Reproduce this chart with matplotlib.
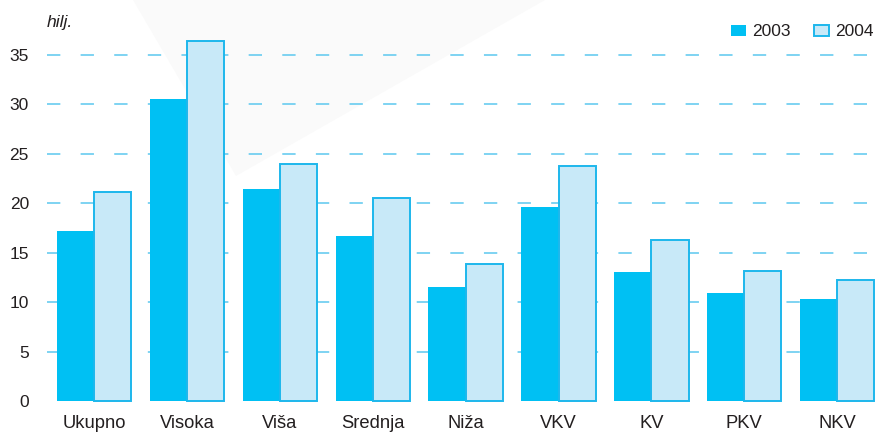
import matplotlib
matplotlib.use('Agg')
import matplotlib.pyplot as plt
from matplotlib.patches import Polygon
import numpy as np

# data (thousands)
categories = ['Ukupno', 'Visoka', 'Viša', 'Srednja', 'Niža', 'VKV', 'KV', 'PKV', 'NKV']
y2003 = [17.2, 30.5, 21.4, 16.7, 11.5, 19.6, 13.0, 10.9, 10.3]
y2004 = [21.1, 36.4, 24.0, 20.5, 13.9, 23.8, 16.3, 13.2, 12.2]
yticks = [0, 5, 10, 15, 20, 25, 30, 35]
series_labels = ['2003', '2004']
unit_label = 'hilj.'

plt.rcParams['font.family'] = ['Liberation Sans', 'DejaVu Sans']
plt.rcParams['lines.scale_dashes'] = False
txt = '#231f20'
c03 = '#00c0f3'
c04 = '#c8e9f8'
c04_edge = '#1db7ec'
grid_c = '#5bc8ef'

W, H = 876, 437
fig = plt.figure(figsize=(W / 100, H / 100), dpi=100)

# faint background triangle, behind everything
tri = Polygon([(133 / W, 1.0), (236 / W, 1 - 176 / H), (545 / W, 1.0)],
              closed=True, transform=fig.transFigure, facecolor='#fafafa',
              edgecolor='none', zorder=-5)
fig.patches.append(tri)

# axes: x=0 at px 94, 92.9 px per group; y=0 at px 401, 9.886 px per unit
px_grp = 92.9
px_unit = 9.886
x_left, x_right = 47, 876
ax = fig.add_axes([x_left / W, (H - 401) / H, (x_right - x_left) / W, 401 / H])
ax.set_zorder(1)
ax.patch.set_alpha(0)
ax.set_xlim((x_left - 94) / px_grp, (x_right - 94) / px_grp)
ax.set_ylim(0, 401 / px_unit)

x = np.arange(len(categories))
w = 0.4
grid_end = (868 - 94) / px_grp
for t in yticks[1:]:
    ax.plot([ax.get_xlim()[0], grid_end], [t, t], color=grid_c, lw=1.1,
            dashes=(9.6, 14.6), zorder=1, dash_capstyle='butt')

b1 = ax.bar(x - w / 2, y2003, w, color=c03, zorder=2, label=series_labels[0])
b2 = ax.bar(x + w / 2, y2004, w, color=c04, edgecolor=c04_edge, linewidth=1.4,
            zorder=3, label=series_labels[1])
for p in list(b1) + list(b2):
    p.set_clip_on(False)

for s in ax.spines.values():
    s.set_visible(False)
ax.set_yticks(yticks)
ax.set_yticklabels([str(t) for t in yticks])
ax.set_xticks(x)
ax.set_xticklabels(categories)
ax.tick_params(axis='both', length=0, colors=txt)
ax.tick_params(axis='y', pad=13, labelsize=12.5)
ax.tick_params(axis='x', pad=10, labelsize=13.2)

fig.text(47 / W, 1 - 22 / H, unit_label, style='italic', fontsize=12.6, color=txt,
         ha='left', va='center')

leg = fig.legend(handles=[b1, b2], labels=series_labels, ncol=2, frameon=False,
                 loc='center right', bbox_to_anchor=(874 / W, 1 - 32 / H),
                 fontsize=12.5, handlelength=0.9, handleheight=0.66,
                 handletextpad=0.36, columnspacing=1.3, borderpad=0,
                 borderaxespad=0)
for t in leg.get_texts():
    t.set_color(txt)

fig.savefig('out.png', dpi=100)
